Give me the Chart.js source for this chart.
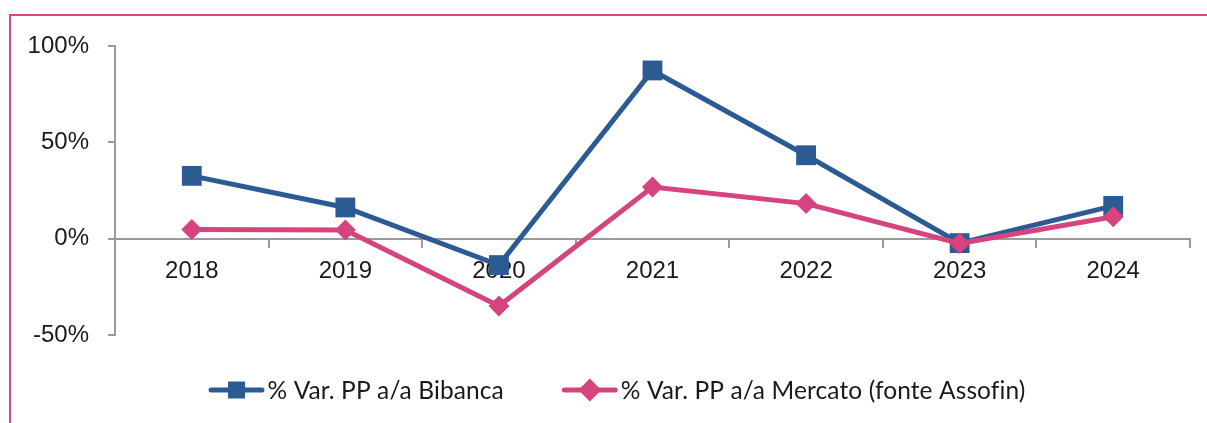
<!DOCTYPE html>
<html>
<head>
<meta charset="utf-8">
<script src="https://cdn.jsdelivr.net/npm/chart.js@4"></script>
<style>
  html, body { margin: 0; padding: 0; background: #fff; }
  #wrap { position: relative; width: 1207px; height: 423px; }
  #frame { position: absolute; left: 9px; top: 14px; right: 0; bottom: 0;
           border-top: 2px solid #d9467f; border-left: 2px solid #d9467f; }
  #chart { position: absolute; left: 0; top: 0; }
</style>
</head>
<body>
<div id="wrap">
  <div id="frame"></div>
  <canvas id="chart" width="1207" height="423"></canvas>
</div>
<script>
// chart data
const years = ["2018", "2019", "2020", "2021", "2022", "2023", "2024"];
const bibanca = [32.6, 16.2, -13.7, 87.3, 43.3, -2.3, 17];
const mercato = [4.7, 4.5, -35, 26.8, 18.2, -2.5, 11.4];
const seriesNames = ["% Var. PP a/a Bibanca", "% Var. PP a/a Mercato (fonte Assofin)"];
const yTicks = [-50, 0, 50, 100];

const blue = "#2c5a93";
const pink = "#d5447f";
const axisGrey = "#9a9a9a";

// legend drawn by hand: line + marker, like the office chart
const lineLegend = {
  id: "lineLegend",
  afterDraw(chart) {
    const ctx = chart.ctx;
    const y = 390;
    const lineW = 56;
    const gap = 58;
    ctx.save();
    ctx.font = "24.5px Lato";
    ctx.letterSpacing = "0.1px"; // keeps "fi" from turning into a ligature
    ctx.textBaseline = "middle";
    const items = chart.data.datasets.map(ds => ({
      ds: ds,
      w: lineW + 3 + ctx.measureText(ds.label).width
    }));
    const total = items.reduce((s, it) => s + it.w, 0) + gap * (items.length - 1);
    let x = 617 - total / 2;
    items.forEach(it => {
      const ds = it.ds;
      ctx.strokeStyle = ds.borderColor;
      ctx.lineWidth = 5;
      ctx.lineCap = "round";
      ctx.beginPath();
      ctx.moveTo(x + 2.5, y);
      ctx.lineTo(x + lineW - 2.5, y);
      ctx.stroke();
      const cx = x + lineW / 2;
      ctx.fillStyle = ds.borderColor;
      ctx.beginPath();
      if (ds.pointStyle === "rect") {
        ctx.rect(cx - 8.5, y - 8.5, 17, 17);
      } else {
        ctx.moveTo(cx - 11.5, y);
        ctx.lineTo(cx, y - 11.5);
        ctx.lineTo(cx + 11.5, y);
        ctx.lineTo(cx, y + 11.5);
        ctx.closePath();
      }
      ctx.fill();
      ctx.fillStyle = "#1a1a1a";
      ctx.fillText(ds.label, x + lineW + 3, y + 1);
      x += it.w + gap;
    });
    ctx.restore();
  }
};

const ctx = document.getElementById("chart").getContext("2d");
const chart = new Chart(ctx, {
  type: "line",
  data: {
    labels: years,
    datasets: [{
      label: seriesNames[0],
      data: bibanca,
      borderColor: blue,
      backgroundColor: blue,
      borderWidth: 5,
      pointStyle: "rect",
      pointRadius: 14,
      pointBorderWidth: 0,
      tension: 0,
      order: 1
    }, {
      label: seriesNames[1],
      data: mercato,
      borderColor: pink,
      backgroundColor: pink,
      borderWidth: 5,
      pointStyle: "rectRot",
      pointRadius: 10.5,
      pointBorderWidth: 0,
      tension: 0,
      order: 0
    }]
  },
  options: {
    responsive: false,
    animation: false,
    events: [],
    layout: { padding: { top: 46, left: 0, right: 17, bottom: 88 } },
    plugins: {
      legend: { display: false },
      tooltip: { enabled: false }
    },
    scales: {
      x: {
        type: "category",
        position: { y: 0 },
        offset: true,
        grid: {
          offset: true,
          drawOnChartArea: false,
          drawTicks: true,
          tickLength: 8,
          color: axisGrey,
          lineWidth: 2
        },
        border: { display: true, color: axisGrey, width: 2 },
        ticks: {
          color: "#1a1a1a",
          font: { family: "Liberation Sans", size: 24 },
          padding: 10,
          maxRotation: 0
        }
      },
      y: {
        min: -50,
        max: 100,
        afterFit(scale) { scale.width = 115; },
        afterBuildTicks(scale) { scale.ticks = yTicks.map(v => ({ value: v })); },
        grid: {
          drawOnChartArea: false,
          drawTicks: true,
          tickLength: 7,
          color: axisGrey,
          lineWidth: 2
        },
        border: { display: true, color: axisGrey, width: 2 },
        ticks: {
          color: "#1a1a1a",
          font: { family: "Liberation Sans", size: 24 },
          padding: 19,
          callback: v => v + "%"
        }
      }
    }
  },
  plugins: [lineLegend]
});
</script>
</body>
</html>
